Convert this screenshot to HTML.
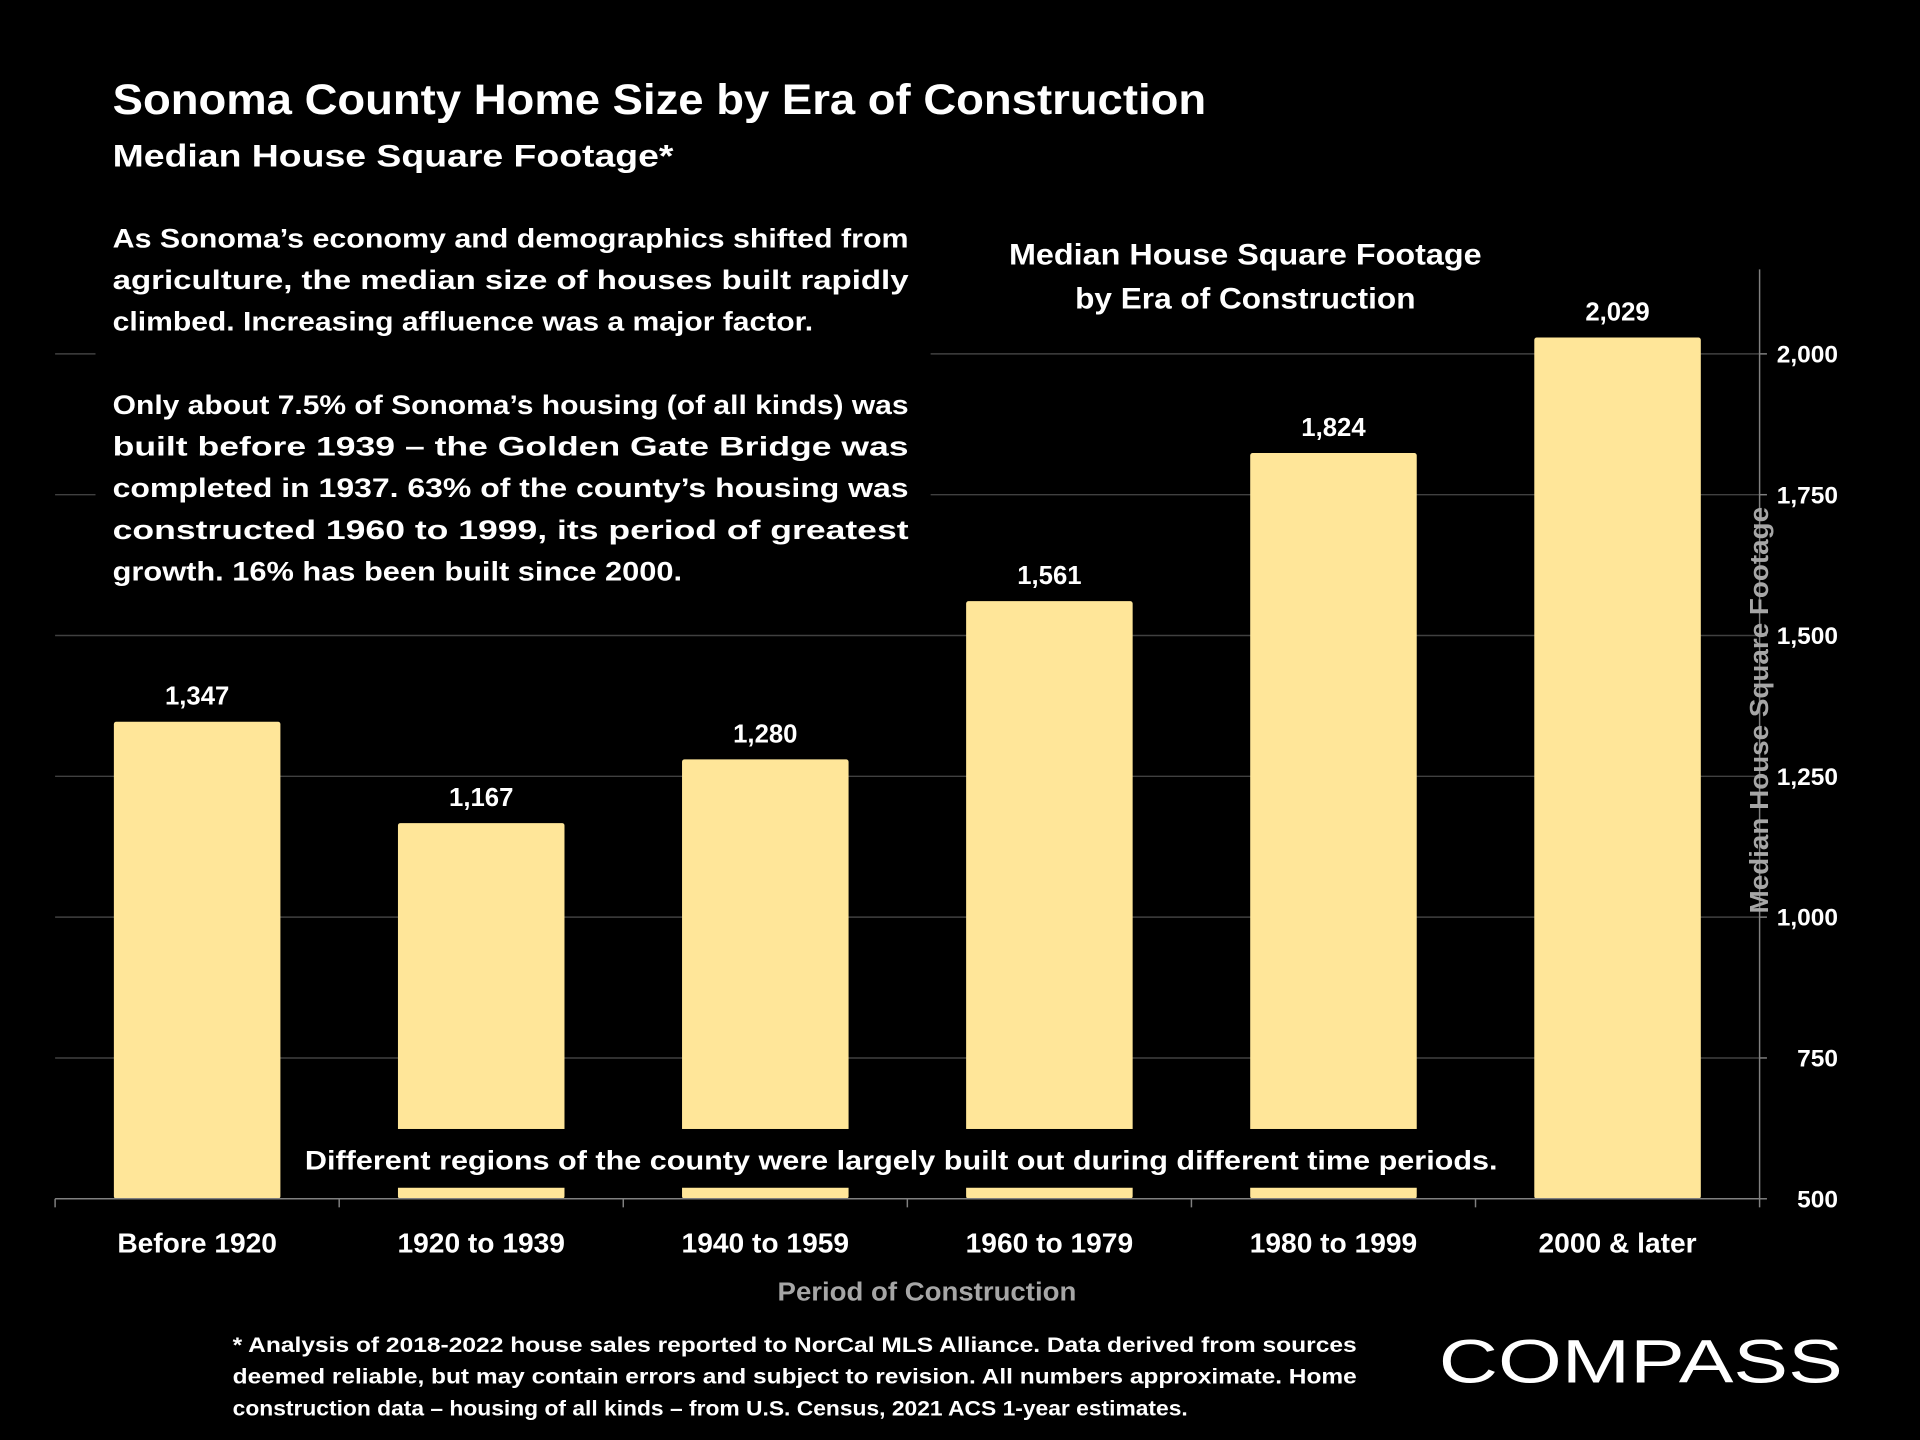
<!DOCTYPE html>
<html><head><meta charset="utf-8"><style>
html,body{margin:0;padding:0;background:#000;}
svg{display:block;}
text{font-family:"Liberation Sans",sans-serif;font-weight:bold;}
</style></head><body>
<svg id="chart" width="1920" height="1440" viewBox="0 0 1568 1176" xmlns="http://www.w3.org/2000/svg">
<rect x="0" y="0" width="1568" height="1176" fill="#000"/>
<g id="grid"></g>
<g id="bars"></g>
<g id="axis"></g>
<g id="xaxis"></g>

<text x="92" y="93" font-size="35" fill="#fff" textLength="893" lengthAdjust="spacingAndGlyphs">Sonoma County Home Size by Era of Construction</text>
<text x="92" y="136" font-size="26" fill="#fff" textLength="458" lengthAdjust="spacingAndGlyphs">Median House Square Footage*</text>

<rect x="78" y="178" width="682" height="312" fill="#000"/>
<g font-size="22" fill="#fff">
<text x="92" y="202" textLength="650" lengthAdjust="spacingAndGlyphs">As Sonoma’s economy and demographics shifted from</text>
<text x="92" y="236" textLength="650" lengthAdjust="spacingAndGlyphs">agriculture,  the  median  size  of  houses  built  rapidly</text>
<text x="92" y="270" textLength="572" lengthAdjust="spacingAndGlyphs">climbed. Increasing affluence was a major factor.</text>
<text x="92" y="338" textLength="650" lengthAdjust="spacingAndGlyphs">Only about 7.5% of Sonoma’s housing (of all kinds) was</text>
<text x="92" y="372" textLength="650" lengthAdjust="spacingAndGlyphs">built  before  1939  –  the  Golden  Gate  Bridge  was</text>
<text x="92" y="406" textLength="650" lengthAdjust="spacingAndGlyphs">completed in 1937. 63% of the county’s housing was</text>
<text x="92" y="440" textLength="650" lengthAdjust="spacingAndGlyphs">constructed   1960   to   1999,   its   period   of   greatest</text>
<text x="92" y="474" textLength="465" lengthAdjust="spacingAndGlyphs">growth.  16% has been built since 2000.</text>
</g>

<rect x="800" y="185" width="440" height="80" fill="#000"/>
<text x="1017" y="216" font-size="24" fill="#fff" text-anchor="middle" textLength="386" lengthAdjust="spacingAndGlyphs">Median House Square Footage</text>
<text x="1017" y="252" font-size="24" fill="#fff" text-anchor="middle" textLength="278" lengthAdjust="spacingAndGlyphs">by Era of Construction</text>

<rect x="236" y="922" width="1006" height="48" fill="#000"/>
<text x="736" y="955" font-size="22" fill="#fff" text-anchor="middle" textLength="974" lengthAdjust="spacingAndGlyphs">Different regions of the county were largely built out during different time periods.</text>

<text x="757" y="1062" font-size="21" fill="#a6a6a6" text-anchor="middle" textLength="244" lengthAdjust="spacingAndGlyphs">Period of Construction</text>
<text transform="translate(1444,580) rotate(-90)" font-size="21" fill="#a6a6a6" text-anchor="middle" textLength="332" lengthAdjust="spacingAndGlyphs">Median House Square Footage</text>

<g font-size="17" fill="#fff">
<text x="190" y="1104" textLength="918" lengthAdjust="spacingAndGlyphs">* Analysis of 2018-2022 house sales reported to NorCal MLS Alliance.  Data derived from sources</text>
<text x="190" y="1130" textLength="918" lengthAdjust="spacingAndGlyphs">deemed reliable, but may contain errors and subject to revision. All numbers approximate. Home</text>
<text x="190" y="1156" textLength="780" lengthAdjust="spacingAndGlyphs">construction data – housing of all kinds – from U.S. Census, 2021 ACS 1-year estimates.</text>
</g>
<text x="1340" y="1129" font-size="50" fill="#fff" text-anchor="middle" style="font-weight:normal" textLength="330" lengthAdjust="spacingAndGlyphs">COMPASS</text>
</svg>
<script>
const categories = ["Before 1920","1920 to 1939","1940 to 1959","1960 to 1979","1980 to 1999","2000 & later"];
const values = [1347,1167,1280,1561,1824,2029];
const valueLabels = ["1,347","1,167","1,280","1,561","1,824","2,029"];
const ticks = [500,750,1000,1250,1500,1750,2000];
const tickLabels = ["500","750","1,000","1,250","1,500","1,750","2,000"];

const NS="http://www.w3.org/2000/svg";
const L=45,R=1437,Y0=979,Y1=289,VMIN=500,VMAX=2000;
function yS(v){return Y0-(v-VMIN)/(VMAX-VMIN)*(Y0-Y1);}
const bw=(R-L)/categories.length;
function xC(i){return L+bw*(i+0.5);}
function mk(tag,attrs,parent){const e=document.createElementNS(NS,tag);for(const k in attrs)e.setAttribute(k,attrs[k]);parent.appendChild(e);return e;}
const grid=document.getElementById('grid'),bars=document.getElementById('bars'),axis=document.getElementById('axis'),xaxis=document.getElementById('xaxis');
ticks.forEach((t,i)=>{
  if(i>0){const g=mk('line',{x1:L,x2:R,y1:yS(t),y2:yS(t),stroke:'#404040','stroke-width':1.2},grid);
  
  }
  const tk=mk('line',{x1:R,x2:R+6,y1:yS(t),y2:yS(t),stroke:'#808080','stroke-width':1.2},axis);
  
  
  const tl=mk('text',{x:R+64,y:yS(t)+7,'font-size':20,fill:'#fff','text-anchor':'end'},axis);
  tl.textContent=tickLabels[i];
  
  
});
const al=mk('line',{x1:R,x2:R,y1:220,y2:Y0,stroke:'#808080','stroke-width':1.2},axis);


const xl=mk('line',{x1:L,x2:R,y1:Y0,y2:Y0,stroke:'#808080','stroke-width':1.2},xaxis);


for(let i=0;i<=categories.length;i++){
  const t=mk('line',{x1:L+bw*i,x2:L+bw*i,y1:Y0,y2:Y0+7,stroke:'#808080','stroke-width':1.2},xaxis);
  
  
}
categories.forEach((c,i)=>{
  const w=136,x=xC(i)-w/2,y=yS(values[i]);
  const b=mk('rect',{x:x,y:y,width:w,height:Y0-y,fill:'#ffe699',rx:2},bars);
  
  
  const v=mk('text',{x:xC(i),y:y-14,'font-size':21,fill:'#fff','text-anchor':'middle'},bars);
  v.textContent=valueLabels[i];
  
  
  const cl=mk('text',{x:xC(i),y:1023,'font-size':23,fill:'#fff','text-anchor':'middle'},xaxis);
  cl.textContent=c;
  
  
});
</script>
</body></html>
